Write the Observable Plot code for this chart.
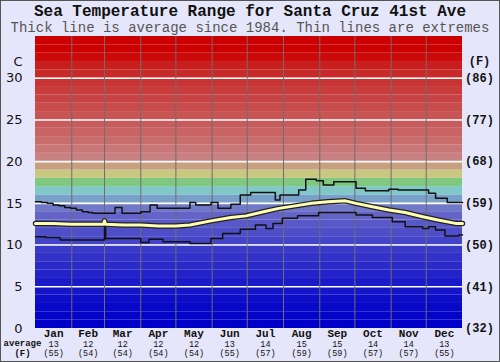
<!DOCTYPE html>
<html><head><meta charset="utf-8">
<script src="https://cdn.jsdelivr.net/npm/d3@7"></script>
<script src="https://cdn.jsdelivr.net/npm/@observablehq/plot@0.6"></script>
<style>
html,body{margin:0;padding:0;background:#e6e6fa;}
#wrap{position:relative;width:500px;height:362px;background:#e6e6fa;overflow:hidden;}
#border{position:absolute;left:0;top:0;width:498px;height:360px;border:1px solid #555;pointer-events:none;}
#title{position:absolute;left:0;width:500px;top:4px;height:17px;text-align:center;font:bold 16px "Liberation Mono",monospace;color:#111;line-height:17px;}
#sub{position:absolute;left:0;width:500px;top:21px;height:15px;text-align:center;font:14px "Liberation Mono",monospace;color:#555;line-height:15px;}
#chart{position:absolute;left:0;top:36px;}
</style></head>
<body><div id="wrap"><div id="title">Sea Temperature Range for Santa Cruz 41st Ave</div><div id="sub">Thick line is average since 1984. Thin lines are extremes</div><div id="chart"></div><div id="border"></div></div>
<script>
// ---- data (day of year 0..365, °C) ----
const maxDays = [0,5,10,15,20,25,30,35,40,45,49,68,74,90,98,104,132,137,150,156,167,175,184,205,209,225,231,240,246,255,274,282,302,310,336,342,352,365];
const maxVals = [15.2,15.1,15.0,14.8,14.7,14.5,14.4,14.2,14.0,13.9,13.8,14.5,13.8,14.0,14.8,14.4,15.1,14.8,15.1,14.4,14.9,16.0,16.3,15.4,16.0,16.6,17.9,17.7,17.2,17.6,16.8,16.5,16.7,16.6,16.2,15.6,15.1,15.1];
const minDays = [0,9,21,59,60,90,97,109,132,150,160,175,188,197,203,211,224,242,274,288,305,316,331,336,342,350,362,365];
const minVals = [11.0,10.9,10.6,12.6,10.8,10.3,10.7,10.4,10.2,10.8,11.4,11.9,12.4,12.0,12.6,13.2,13.5,13.9,13.6,13.3,12.8,12.2,12.0,12.2,11.8,11.1,11.2,11.2];
const avgDays = [0,15,30,45,58,59,60,75,90,105,120,132,150,167,180,195,208,222,236,250,265,274,288,302,316,331,344,359,365];
const avgVals = [12.6,12.6,12.5,12.5,12.5,12.9,12.5,12.4,12.4,12.3,12.3,12.4,12.9,13.3,13.5,14.0,14.4,14.7,15.0,15.2,15.3,15.0,14.6,14.2,13.9,13.4,13.0,12.6,12.6];
const months = ["Jan","Feb","Mar","Apr","May","Jun","Jul","Aug","Sep","Oct","Nov","Dec"];
const monthStarts = [0,31,59,90,120,151,181,212,243,273,304,334,365];
const monthAvgC = ["13","12","12","12","12","13","14","15","15","14","14","13"];
const monthAvgF = ["(55)","(54)","(54)","(54)","(54)","(55)","(57)","(59)","(59)","(57)","(57)","(55)"];
const cTicks = [0,5,10,15,20,25,30];
const fLabels = ["(32)","(41)","(50)","(59)","(68)","(77)","(86)"];
// background palette, one band per degree 0..35
const bandColors = ["#0000c8","#0404c8","#0808c8","#0e0ec8","#1414c8","#1a1ac8","#2222c8","#2a2ac8","#3232c8","#3a3ac8",
 "#4444c8","#4e4ec8","#5858c8","#6464c8","#7078c8","#78a0c8","#80c8c8","#80c880","#c8c880","#c8a080",
 "#c88080","#c87676","#c86c6c","#c86464","#c85c5c","#c85454","#c84c4c","#c84444","#c83c3c","#c83434",
 "#c82a2a","#c81e1e","#cc0a0a","#cc0000","#cc0000"];

const mk = (ds, vs) => ds.map((d, i) => ({day: d, t: vs[i]}));
const maxData = mk(maxDays, maxVals), minData = mk(minDays, minVals), avgData = mk(avgDays, avgVals);
const bands = bandColors.map((c, i) => ({lo: i, hi: i + 1, c}));
const monthInfo = months.map((m, i) => ({m, mid: (monthStarts[i] + monthStarts[i + 1]) / 2, c: monthAvgC[i], f: monthAvgF[i]}));
const mono = "Liberation Mono, Courier New, monospace";

const plot = Plot.plot({
  width: 500, height: 326,
  marginTop: 0, marginBottom: 34, marginLeft: 35, marginRight: 38,
  x: {domain: [0, 365], axis: null},
  y: {domain: [0, 35], axis: null},
  color: {type: "identity"},
  style: {background: "transparent", overflow: "visible"},
  marks: [
    Plot.rect(bands, {x1: 0, x2: 365, y1: "lo", y2: "hi", fill: "c", inset: 0}),
    Plot.ruleY(cTicks.filter(v => v > 0), {stroke: "white", strokeWidth: 1.6}),
    Plot.ruleX(monthStarts.slice(1, 12), {stroke: "#6e6e6e", strokeWidth: 1}),
    Plot.line(maxData, {x: "day", y: "t", curve: "step-after", stroke: "#111", strokeWidth: 1.5}),
    Plot.line(minData, {x: "day", y: "t", curve: "step-after", stroke: "#111", strokeWidth: 1.5}),
    Plot.line(avgData, {x: "day", y: "t", stroke: "#222", strokeWidth: 5.5}),
    Plot.line(avgData, {x: "day", y: "t", stroke: "#ffffb4", strokeWidth: 3}),
    // left C axis
    Plot.text(cTicks, {y: d => d, text: d => String(d), frameAnchor: "left", textAnchor: "end", dx: -13, fontFamily: "DejaVu Sans", fontSize: 13, fill: "#111"}),
    Plot.text(["C"], {y: 32, text: d => d, frameAnchor: "left", textAnchor: "end", dx: -13, fontFamily: "DejaVu Sans", fontSize: 13, fill: "#111"}),
    // right F axis
    Plot.text(cTicks, {y: d => d, text: (d, i) => fLabels[i], frameAnchor: "right", textAnchor: "middle", dx: 17, fontFamily: mono, fontWeight: "bold", fontSize: 12, fill: "#111"}),
    Plot.text(["(F)"], {y: 32, text: d => d, frameAnchor: "right", textAnchor: "middle", dx: 17, fontFamily: mono, fontWeight: "bold", fontSize: 12, fill: "#111"}),
    // bottom month labels
    Plot.text(monthInfo, {x: "mid", text: "m", frameAnchor: "bottom", dy: 5, lineAnchor: "middle", fontFamily: mono, fontWeight: "bold", fontSize: 11, fill: "#111"}),
    Plot.text(monthInfo, {x: "mid", text: "c", frameAnchor: "bottom", dy: 15.5, lineAnchor: "middle", fontFamily: mono, fontSize: 8.5, fill: "#111"}),
    Plot.text(monthInfo, {x: "mid", text: "f", frameAnchor: "bottom", dy: 24.5, lineAnchor: "middle", fontFamily: mono, fontSize: 8.5, fill: "#111"}),
    Plot.text(["average"], {text: d => d, frameAnchor: "bottom-left", dx: -13, dy: 15, textAnchor: "middle", lineAnchor: "middle", fontFamily: mono, fontWeight: "bold", fontSize: 9, fill: "#111"}),
    Plot.text(["(F)"], {text: d => d, frameAnchor: "bottom-left", dx: -13, dy: 24.5, textAnchor: "middle", lineAnchor: "middle", fontFamily: mono, fontWeight: "bold", fontSize: 9, fill: "#111"})
  ]
});
document.getElementById("chart").appendChild(plot);
</script></body></html>
